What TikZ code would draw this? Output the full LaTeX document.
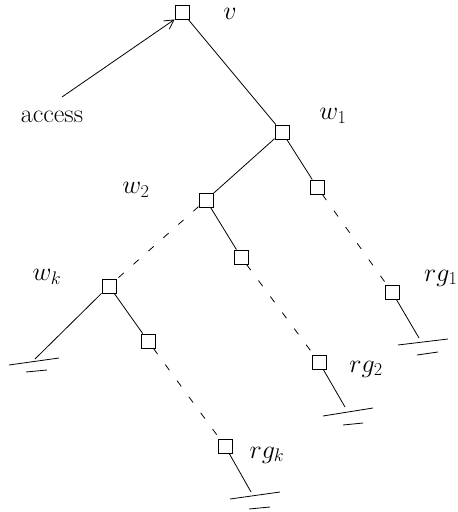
\RequirePackage{fix-cm}
\documentclass[tikz,border=0pt]{standalone}
\usetikzlibrary{arrows.meta}
\begin{document}
\begin{tikzpicture}[x=1pt,y=-1pt,
  box/.style={draw,line width=0.9pt,minimum size=14pt,inner sep=0pt},
  lbl/.style={inner sep=0pt,font=\fontsize{26}{30}\selectfont},
  edge/.style={line width=0.8pt},
  dashedge/.style={line width=0.8pt,dash pattern=on 7pt off 13pt},
  gnd/.style={line width=0.8pt}]
\useasboundingbox (0,0) rectangle (458,512);
% boxes
\node[box] (v)  at (182,12) {};
\node[box] (w1) at (282,132) {};
\node[box] (a1) at (317,187) {};
\node[box] (r1) at (392,292) {};
\node[box] (w2) at (206,200) {};
\node[box] (a2) at (241,257) {};
\node[box] (r2) at (319,362) {};
\node[box] (wk) at (109,286) {};
\node[box] (ak) at (148,341) {};
\node[box] (rk) at (225,446) {};
% labels
\node[lbl] (lv)  at (230,14) {$v$};
\node[lbl] (lw1) at (333,116) {$w_1$};
\node[lbl] (lw2) at (136,190) {$w_2$};
\node[lbl] (lwk) at (47,277) {$w_k$};
\node[lbl,anchor=west] (lr1) at (424,278) {$rg_1$};
\node[lbl] (lr2) at (366,369) {$rg_2$};
\node[lbl] (lrk) at (267,455) {$rg_k$};
\node[lbl] (acc) at (52,117) {access};
% coordinates
\coordinate (as) at (62,97);
\coordinate (e0) at (35,359);
\coordinate (e1) at (419,338);
\coordinate (e2) at (345,407);
\coordinate (ek) at (251,492);
% connectors
\draw[edge,-{Straight Barb[length=9pt,width=10pt]}] (as) -- (v.south west);
\draw[edge] (v) -- (w1);
\draw[edge] (w1) -- (w2);
\draw[edge] (w1) -- (a1);
\draw[dashedge] (a1) -- (r1);
\draw[dashedge] (w2) -- (wk);
\draw[edge] (w2) -- (a2);
\draw[dashedge] (a2) -- (r2);
\draw[edge] (wk) -- (ak);
\draw[dashedge] (ak) -- (rk);
\draw[edge] (wk) -- (e0);
\draw[edge] (r1) -- (e1);
\draw[edge] (r2) -- (e2);
\draw[edge] (rk) -- (ek);
% grounds
\draw[gnd] (9,365) -- (59,358);
\draw[gnd] (26,372) -- (47,370);
\draw[gnd] (398,345) -- (448,339);
\draw[gnd] (417,355) -- (438,352);
\draw[gnd] (323,416) -- (373,408);
\draw[gnd] (343,425) -- (363,423);
\draw[gnd] (230,499) -- (280,492);
\draw[gnd] (249,509) -- (270,507);
\end{tikzpicture}
\end{document}
